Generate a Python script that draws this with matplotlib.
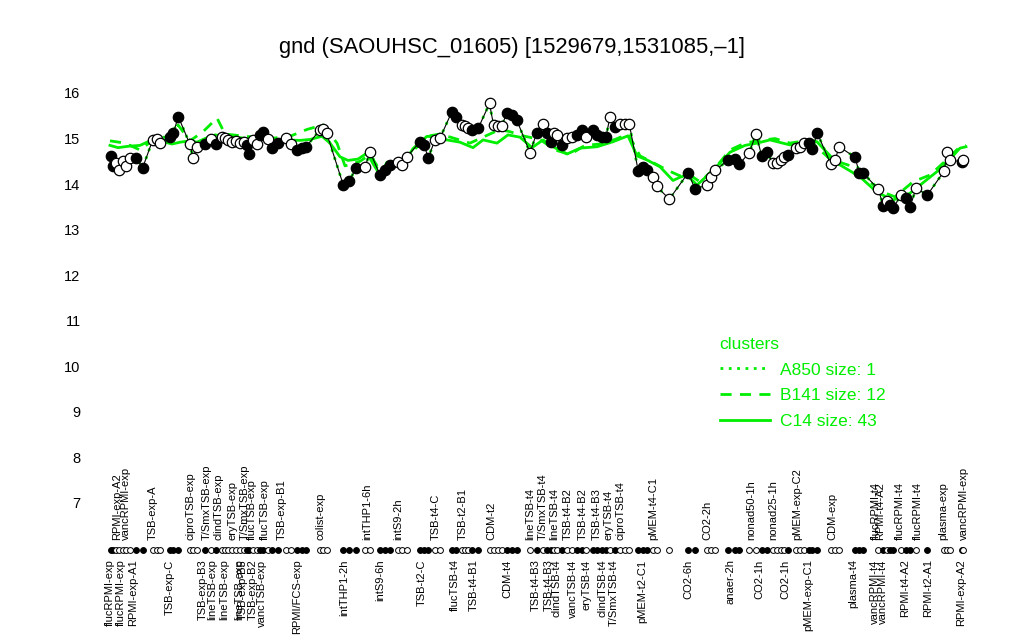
import matplotlib
matplotlib.use('Agg')
import matplotlib.pyplot as plt
from matplotlib.lines import Line2D

plt.rcParams['font.family'] = ['Liberation Sans', 'DejaVu Sans']

title = "gnd (SAOUHSC_01605) [1529679,1531085,\u20131]"

# sample positions along the condition axis, expression values, fill (1 = filled)
sample_x = [110.7, 113.0, 116.0, 119.5, 123.0, 126.5, 130.0, 136.0, 142.7,
            152.7, 156.7, 160.0, 170.0, 173.3, 178.3, 190.0, 193.0, 197.0,
            205.0, 210.7, 216.0, 221.7, 224.5, 228.3, 231.7, 236.0, 240.0,
            244.0, 246.7, 249.3, 253.3, 256.7, 260.0, 262.5, 268.3, 271.7,
            278.3, 285.5, 290.5, 296.7, 301.7, 306.0, 320.0, 323.3, 326.5,
            343.3, 349.0, 356.0, 365.0, 370.0, 380.0, 385.0, 390.0, 398.3,
            402.0, 407.0, 420.0, 424.0, 428.3, 435.0, 440.0, 451.7, 455.5,
            461.7, 464.5, 467.5, 472.0, 478.3, 489.5, 493.5, 497.5, 501.7,
            506.7, 512.0, 516.7, 530.0, 536.7, 543.3, 546.7, 550.5, 553.5,
            557.0, 561.7, 566.7, 571.7, 576.7, 581.7, 585.5, 593.3, 596.7,
            601.7, 606.0, 610.0, 615.0, 620.0, 625.0, 629.3, 638.3, 643.3,
            646.7, 653.3, 656.7, 669.3, 688.3, 695.0, 706.7, 710.5, 715.0,
            728.3, 735.0, 739.3, 749.3, 756.0, 761.7, 766.7, 772.7, 777.3,
            780.5, 783.5, 788.3, 796.0, 800.0, 804.0, 809.3, 812.0, 817.3,
            830.7, 835.0, 839.3, 855.0, 859.3, 863.3, 878.3, 883.3, 886.7,
            890.0, 893.3, 900.7, 906.0, 910.0, 916.0, 927.3, 944.0, 947.3,
            950.0, 961.7, 963.3]
expr = [14.62, 14.40, 14.46, 14.30, 14.51, 14.40, 14.58, 14.58, 14.36,
        14.97, 14.99, 14.90, 15.04, 15.12, 15.48, 14.87, 14.57, 14.82,
        14.88, 14.98, 14.88, 15.03, 15.01, 14.97, 14.93, 14.95, 14.90,
        14.93, 14.86, 14.66, 14.97, 14.88, 15.08, 15.15, 14.98, 14.79,
        14.90, 15.01, 14.88, 14.75, 14.79, 14.82, 15.19, 15.22, 15.13,
        13.98, 14.06, 14.35, 14.37, 14.71, 14.20, 14.31, 14.42, 14.49,
        14.42, 14.60, 14.93, 14.86, 14.58, 14.97, 15.01, 15.58, 15.48,
        15.30, 15.27, 15.23, 15.19, 15.23, 15.77, 15.30, 15.28, 15.28,
        15.55, 15.52, 15.41, 14.69, 15.12, 15.33, 15.13, 14.93, 15.12,
        15.08, 14.86, 15.01, 15.04, 15.08, 15.19, 15.04, 15.19, 15.08,
        15.04, 15.04, 15.48, 15.26, 15.33, 15.33, 15.32, 14.28, 14.38,
        14.31, 14.16, 13.95, 13.67, 14.25, 13.89, 13.98, 14.15, 14.30,
        14.53, 14.55, 14.44, 14.69, 15.10, 14.62, 14.71, 14.47, 14.46,
        14.52, 14.59, 14.64, 14.80, 14.81, 14.90, 14.91, 14.76, 15.12,
        14.44, 14.53, 14.82, 14.59, 14.25, 14.24, 13.89, 13.52, 13.64,
        13.55, 13.47, 13.76, 13.69, 13.49, 13.91, 13.76, 14.28, 14.71,
        14.53, 14.49, 14.53]
filled = [1, 1, 0, 0, 0, 0, 0, 1, 1,
          0, 0, 0, 1, 1, 1, 0, 0, 0,
          1, 0, 1, 0, 0, 0, 0, 0, 0,
          0, 1, 1, 0, 0, 1, 1, 0, 1,
          1, 0, 0, 1, 1, 1, 0, 0, 0,
          1, 1, 1, 0, 0, 1, 1, 1, 0,
          0, 0, 1, 1, 1, 0, 0, 1, 1,
          0, 0, 0, 1, 1, 0, 0, 0, 0,
          1, 1, 1, 0, 1, 0, 1, 1, 0,
          0, 1, 0, 0, 1, 1, 0, 1, 1,
          1, 1, 0, 1, 0, 0, 0, 1, 1,
          1, 0, 0, 0, 1, 1, 0, 0, 0,
          1, 1, 1, 0, 0, 1, 1, 0, 0,
          0, 0, 1, 0, 0, 0, 1, 1, 1,
          0, 0, 0, 1, 1, 1, 0, 1, 0,
          1, 1, 0, 1, 1, 0, 1, 0, 0,
          0, 1, 0]

# condition labels: text, position, side (T = above strip, B = below strip)
label_text = ['flucRPMI-exp', 'RPMI-exp-A2', 'flucRPMI-exp', 'vancRPMI-exp', 'RPMI-exp-A1',
              'TSB-exp-A', 'TSB-exp-C', 'ciproTSB-exp', 'TSB-exp-B3', 'T/SmxTSB-exp',
              'lineTSB-exp', 'clindTSB-exp', 'lineTSB-exp', 'eryTSB-exp', 'lineTSB-exp',
              'TSB-exp-B5', 'T/SmxTSB-exp', 'flucTSB-exp', 'TSB-exp-B2', 'vancTSB-exp',
              'flucTSB-exp', 'TSB-exp-B1', 'RPMI/FCS-exp', 'colist-exp', 'intTHP1-2h',
              'intTHP1-6h', 'intS9-6h', 'intS9-2h', 'TSB-t2-C', 'TSB-t4-C',
              'flucTSB-t4', 'TSB-t2-B1', 'TSB-t4-B1', 'CDM-t2', 'CDM-t4',
              'lineTSB-t4', 'TSB-t4-B3', 'T/SmxTSB-t4', 'TSB-t4-B3', 'lineTSB-t4',
              'clindTSB-t4', 'TSB-t4-B2', 'vancTSB-t4', 'TSB-t4-B2', 'eryTSB-t4',
              'TSB-t4-B3', 'clindTSB-t4', 'eryTSB-t4', 'T/SmxTSB-t4', 'ciproTSB-t4',
              'pMEM-t2-C1', 'pMEM-t4-C1', 'CO2-6h', 'CO2-2h', 'anaer-2h',
              'nonad50-1h', 'CO2-1h', 'nonad25-1h', 'CO2-1h', 'pMEM-exp-C2',
              'pMEM-exp-C1', 'CDM-exp', 'plasma-t4', 'flucRPMI-t4', 'vancRPMI-t4',
              'RPMI-t4-A2', 'vancRPMI-t4', 'flucRPMI-t4', 'RPMI-t4-A2', 'flucRPMI-t4',
              'RPMI-t2-A1', 'plasma-exp', 'RPMI-exp-A2', 'vancRPMI-exp']
label_x = [110, 117, 121, 126, 133,
           153, 170, 190, 203, 207,
           212, 218, 224, 232, 239,
           243, 245, 252, 253, 262,
           265, 282, 297, 321, 344,
           367, 380, 398, 422, 436,
           455, 463, 474, 491, 507,
           530, 536, 543, 549, 554,
           557, 568, 573, 583, 587,
           597, 603, 608, 614, 620,
           642, 653, 688, 707, 730,
           751, 759, 773, 785, 797,
           808, 832, 853, 876, 875,
           880, 883, 900, 905, 918,
           928, 943, 961, 964]
label_side = ['B', 'T', 'B', 'T', 'B',
              'T', 'B', 'T', 'B', 'T',
              'B', 'T', 'B', 'T', 'B',
              'B', 'T', 'T', 'B', 'B',
              'T', 'T', 'B', 'T', 'B',
              'T', 'B', 'T', 'B', 'T',
              'B', 'T', 'B', 'T', 'B',
              'T', 'B', 'T', 'B', 'T',
              'B', 'T', 'B', 'T', 'B',
              'T', 'B', 'T', 'B', 'T',
              'B', 'T', 'B', 'T', 'B',
              'T', 'B', 'T', 'B', 'T',
              'B', 'T', 'B', 'T', 'B',
              'T', 'B', 'T', 'B', 'T',
              'B', 'T', 'B', 'T']

# cluster profiles
c14_x = [110, 118, 128, 140, 152, 160, 172, 180, 190, 197, 205, 215, 225, 240, 255,
         270, 285, 300, 310, 322, 330, 340, 348, 358, 367, 373, 380, 387, 398, 405,
         413, 427, 437, 447, 460, 473, 483, 497, 508, 520, 532, 543, 553, 567, 580,
         597, 613, 628, 637, 647, 660, 673, 680, 687, 697, 710, 720, 730, 745, 757,
         770, 790, 803, 817, 837, 860, 877, 893, 910, 927, 943, 960, 966]
c14_y = [14.85, 14.80, 14.83, 14.85, 14.97, 14.95, 14.88, 14.92, 14.95, 14.92, 15.00,
         15.08, 15.05, 15.02, 14.98, 14.97, 14.97, 14.96, 14.98, 15.05, 14.90, 14.60,
         14.52, 14.55, 14.68, 14.45, 14.20, 14.48, 14.45, 14.50, 14.78, 15.05, 15.03,
         14.97, 14.92, 14.80, 14.97, 14.90, 15.08, 15.03, 14.80, 14.97, 14.82, 14.66,
         14.79, 14.82, 14.93, 15.06, 14.62, 14.53, 14.38, 14.08, 14.15, 14.20, 13.98,
         14.24, 14.46, 14.70, 14.85, 14.90, 14.97, 14.86, 14.90, 14.93, 14.46, 14.16,
         13.82, 13.65, 13.80, 14.10, 14.38, 14.79, 14.82]
b141_x = [110, 125, 140, 155, 170, 178, 190, 203, 217, 225, 245, 270, 290, 307, 323,
          337, 345, 360, 370, 380, 395, 410, 427, 440, 455, 470, 500, 510, 525, 540,
          555, 570, 585, 600, 615, 628, 640, 655, 667, 680, 690, 700, 715, 730, 745,
          757, 775, 790, 805, 815, 830, 848, 865, 880, 895, 913, 930, 945, 960, 966]
b141_y = [14.95, 14.90, 14.75, 15.00, 15.05, 15.30, 14.95, 15.15, 15.45, 15.10, 15.05,
          15.00, 15.05, 15.20, 15.30, 14.90, 14.40, 14.50, 14.65, 14.30, 14.45, 14.65,
          15.05, 15.10, 15.00, 14.90, 15.20, 15.15, 15.05, 14.98, 14.75, 14.65, 14.85,
          14.88, 14.98, 15.10, 14.62, 14.45, 14.31, 14.18, 14.20, 14.05, 14.35, 14.75,
          14.90, 14.95, 15.00, 14.90, 14.95, 14.85, 14.55, 14.42, 14.15, 13.85, 13.72,
          14.05, 14.20, 14.50, 14.82, 14.85]

y_ticks = [7, 8, 9, 10, 11, 12, 13, 14, 15, 16]

GREEN = '#00ee00'

fig = plt.figure(figsize=(10.24, 6.4), dpi=100)
ax = fig.add_axes([100 / 1024, (640 - 519.4) / 640, 875 / 1024, 442.8 / 640])
ax.set_xlim(100, 975)
ax.set_ylim(6.64, 16.36)
for s in ax.spines.values():
    s.set_visible(False)
ax.set_xticks([])
ax.set_yticks(y_ticks)
ax.set_yticklabels([str(t) for t in y_ticks], fontsize=10.5)
ax.tick_params(axis='y', length=0, pad=14)

# cluster lines
ax.plot(sample_x, expr, color=GREEN, lw=2, ls=(0, (1, 2)), zorder=1)
ax.plot(b141_x, b141_y, color=GREEN, lw=2, ls=(0, (4, 3)), zorder=2)
ax.plot(c14_x, c14_y, color=GREEN, lw=2, ls='-', zorder=2)

# gene profile
ax.plot(sample_x, expr, color='black', lw=0.8, zorder=3)
for x, y, f in zip(sample_x, expr, filled):
    ax.plot([x], [y], marker='o', ms=7.5, mec='black', mew=0.9,
            mfc='black' if f else 'white', zorder=4)
    ax.plot([x], [5.96], marker='o', ms=4.2, mec='black', mew=0.7,
            mfc='black' if f else 'white', zorder=4, clip_on=False)

for t, x, side in zip(label_text, label_x, label_side):
    if side == 'T':
        ax.text(x, 6.18, t, rotation=90, ha='center', va='bottom', fontsize=8.0,
                clip_on=False)
    else:
        ax.text(x, 5.76, t, rotation=90, ha='center', va='top', fontsize=8.0,
                clip_on=False)

fig.text(512 / 1024, 1 - 47 / 640, title, ha='center', va='center', fontsize=15.8)

handles = [Line2D([], [], color=GREEN, lw=2, ls=(0, (1, 2))),
           Line2D([], [], color=GREEN, lw=2, ls=(0, (4, 3))),
           Line2D([], [], color=GREEN, lw=2, ls='-')]
labels = ['A850 size: 1', 'B141 size: 12', 'C14 size: 43']
leg = fig.legend(handles, labels, title='clusters', loc='upper left',
                 bbox_to_anchor=(704 / 1024, 1 - 321 / 640), frameon=False,
                 fontsize=12.5, title_fontsize=12.5, handlelength=2.9,
                 labelcolor=GREEN, labelspacing=0.62, handletextpad=0.6)
leg.get_title().set_color(GREEN)
leg._legend_box.align = 'left'

fig.savefig('out.png', dpi=100)
